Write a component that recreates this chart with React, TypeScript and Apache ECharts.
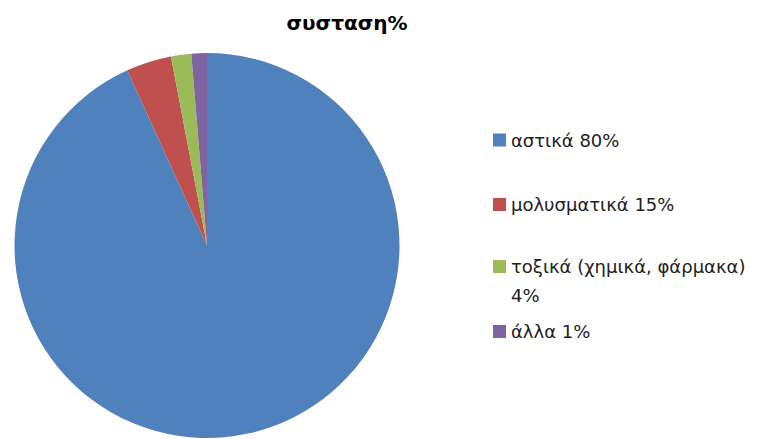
import React, { useEffect, useRef } from "react";
import * as echarts from "echarts";

const categories = ["αστικά 80%", "μολυσματικά 15%", "τοξικά (χημικά, φάρμακα)\n4%", "άλλα 1%"];
const values = [93.2, 3.8, 1.7, 1.3];
const colors = ["#4F81BD", "#C0504D", "#9BBB59", "#8064A2"];
const legendTops = [123, 187.5, 215, 314.5];

export default function App() {
  const ref = useRef<HTMLDivElement>(null);
  useEffect(() => {
    if (!ref.current) return;
    const chart = echarts.init(ref.current, null, { renderer: "svg" });
    const font = "'DejaVu Sans', sans-serif";
    const legends = categories.map((name, i) => {
      const multi = name.includes("\n");
      return {
        orient: "vertical",
        left: 485,
        top: legendTops[i],
        padding: 0,
        itemWidth: 13,
        itemHeight: 13,
        itemGap: 0,
        icon: "rect",
        selectedMode: false,
        data: [name],
        formatter: multi ? (n: string) => "\n" + n : undefined,
        textStyle: {
          fontFamily: font,
          fontSize: 18,
          color: "#222",
          lineHeight: multi ? 29 : 13,
        },
      };
    });
    chart.setOption({
      animation: false,
      color: colors,
      title: {
        text: "συσταση%",
        left: 334,
        textAlign: "center",
        top: 0,
        textStyle: { fontFamily: font, fontSize: 20, fontWeight: "bold", color: "#000" },
      },
      legend: legends,
      series: [
        {
          type: "pie",
          center: [199, 237.5],
          radius: 192.5,
          startAngle: 90,
          clockwise: true,
          label: { show: false },
          labelLine: { show: false },
          emphasis: { disabled: true },
          itemStyle: { borderWidth: 0 },
          data: categories.map((name, i) => ({ name, value: values[i] })),
        },
      ],
    });
    return () => chart.dispose();
  }, []);
  return <div ref={ref} style={{ width: 757, height: 439 }} />;
}
